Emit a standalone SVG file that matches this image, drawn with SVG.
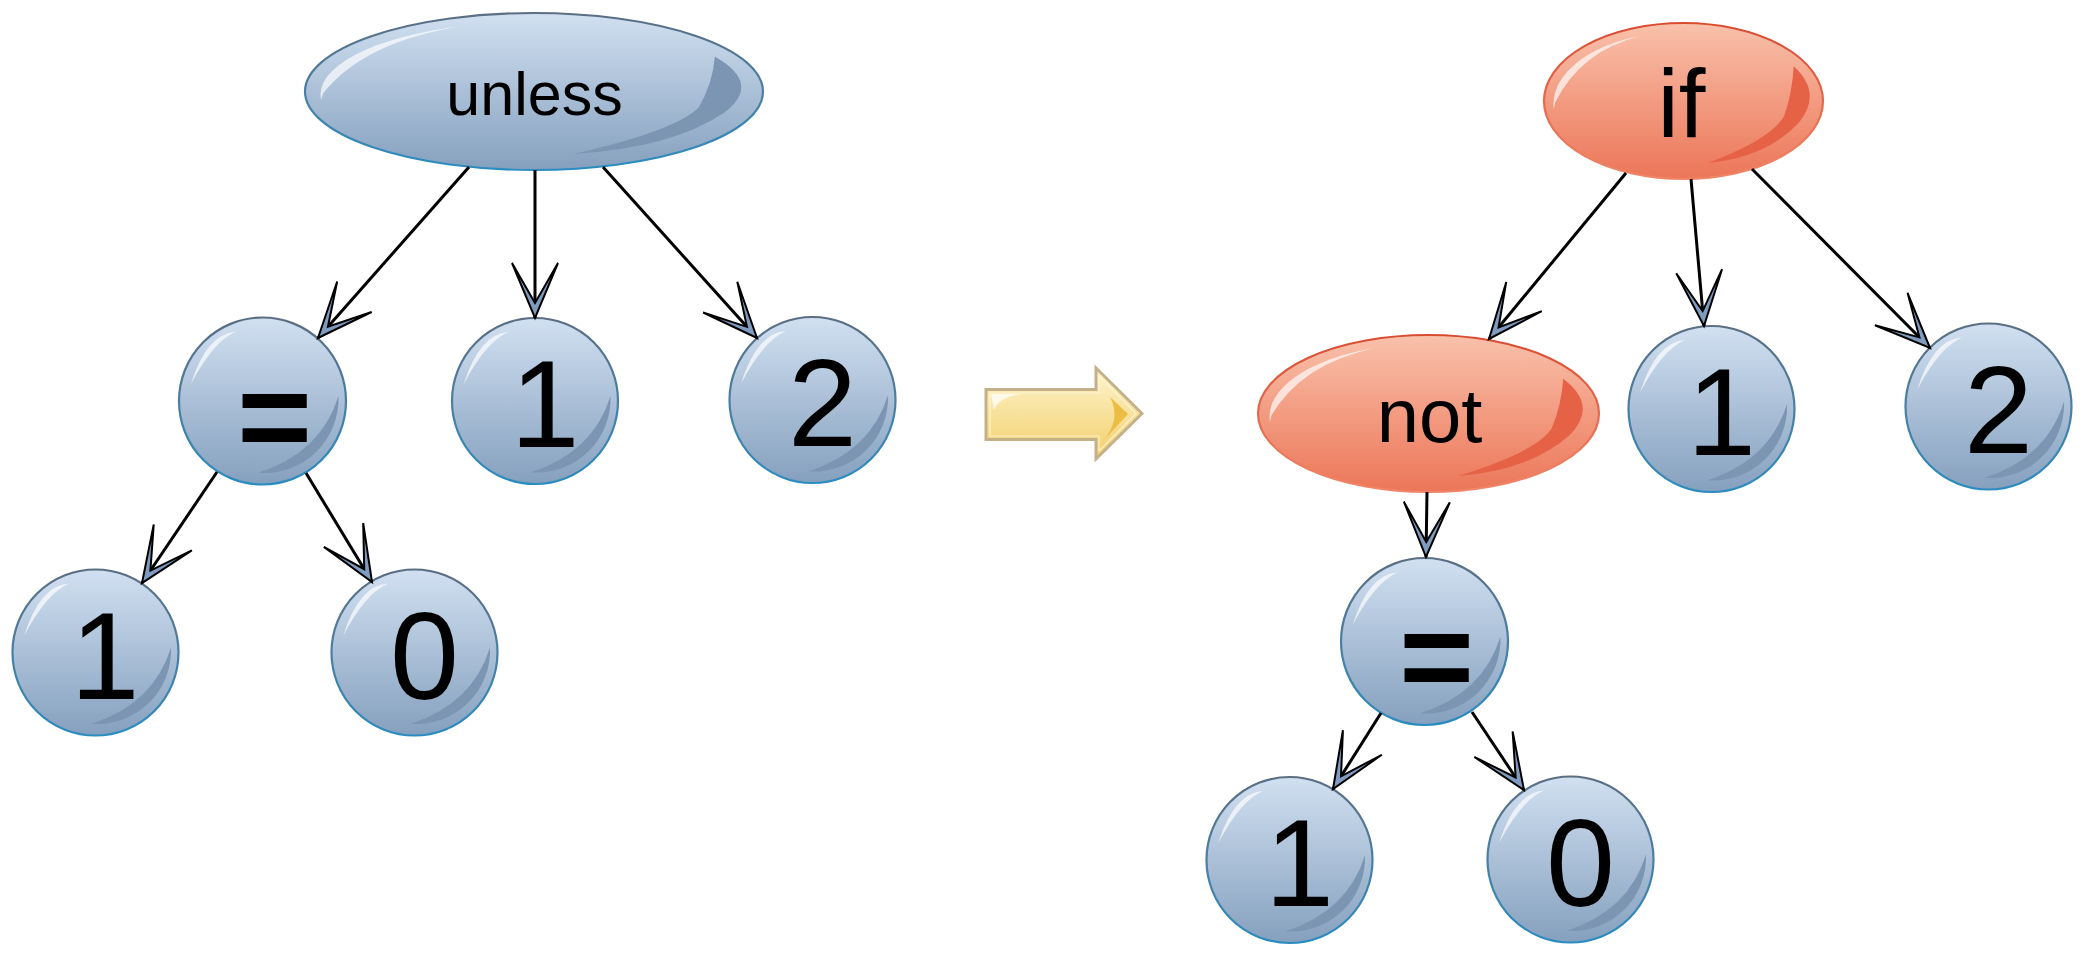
<svg xmlns="http://www.w3.org/2000/svg" xmlns:xlink="http://www.w3.org/1999/xlink" width="2084" height="956" viewBox="0 0 2084 956">
<defs>
<style>
.blue{fill:url(#gBlue);stroke:url(#gBlueS);stroke-width:2.2}
.red{fill:url(#gRed);stroke:url(#gRedS);stroke-width:2.2}
.hi{fill:#ffffff;fill-opacity:0.68}
.shB{fill:#7b95b3}
.shR{fill:#e66246}
.lbl{font-family:"Liberation Sans",Arial,Helvetica,sans-serif;text-anchor:middle;fill:#000}
.dig{font-size:124px}
.eq{font-size:128px;font-weight:bold}
.edge{fill:none;stroke:#000;stroke-width:3;marker-end:url(#arr)}
</style>
<linearGradient id="gBlue" x1="0" y1="0" x2="0" y2="1"><stop offset="0" stop-color="#d1e0f1"/><stop offset="1" stop-color="#85a0be"/></linearGradient>
<linearGradient id="gBlueS" x1="0" y1="0" x2="0" y2="1"><stop offset="0" stop-color="#5b6e82"/><stop offset="0.5" stop-color="#4a7ea3"/><stop offset="1" stop-color="#2a8cc0"/></linearGradient>
<linearGradient id="gRed" x1="0" y1="0" x2="0" y2="1"><stop offset="0" stop-color="#f9c1ab"/><stop offset="1" stop-color="#ec7658"/></linearGradient>
<linearGradient id="gRedS" x1="0" y1="0" x2="0" y2="1"><stop offset="0" stop-color="#d84c32"/><stop offset="1" stop-color="#f08668"/></linearGradient>
<linearGradient id="gYel" x1="0" y1="0" x2="0" y2="1"><stop offset="0" stop-color="#fdf4cc"/><stop offset="1" stop-color="#f2cf6c"/></linearGradient>
<path id="cHi" d="M-0.86,-0.2 Q-0.67,-0.805 -0.32,-0.83 Q-0.59,-0.715 -0.86,-0.2 Z"/>
<path id="cSh" d="M0.91,-0.06 A0.89 0.89 0 0 1 -0.05,0.86 Q0.70,0.62 0.91,-0.06 Z"/>
<path id="eHi" d="M-0.93,0.11 A0.93 0.93 0 0 1 -0.316,-0.834 Q-0.742,-0.633 -0.92,0.02 Z"/>
<path id="eSh" d="M0.79,-0.444 Q1.0,-0.1 0.827,0.278 Q0.6,0.72 0.172,0.796 Q0.62,0.5 0.72,0.2 Q0.78,-0.1 0.79,-0.444 Z"/>
<marker id="arr" markerUnits="userSpaceOnUse" orient="auto" refX="0" refY="0" markerWidth="80" markerHeight="60" viewBox="-60 -30 80 60" overflow="visible">
<path d="M-55,-23 L0,0 L-55,23 L-15,0 Z" fill="#7f9cc0" stroke="#000" stroke-width="2"/>
</marker>
</defs>

<g id="node-unless">
<ellipse class="blue" cx="534" cy="91.5" rx="229" ry="78.5"/>
<use href="#eHi" class="hi" transform="translate(534 91.5) scale(229 78.5)"/>
<use href="#eSh" class="shB" transform="translate(534 91.5) scale(229 78.5)"/>
<text class="lbl" x="534.5" y="115" font-size="61">unless</text>
</g>

<g id="node-eq-left">
<circle class="blue" cx="262.5" cy="401" r="83.5"/>
<use href="#cHi" class="hi" transform="translate(262.5 401) scale(83.5)"/>
<use href="#cSh" class="shB" transform="translate(262.5 401) scale(83.5)"/>
<text class="lbl eq" x="274.5" y="460">=</text>
</g>

<g id="node-one-left">
<circle class="blue" cx="535" cy="401" r="83"/>
<use href="#cHi" class="hi" transform="translate(535 401) scale(83)"/>
<use href="#cSh" class="shB" transform="translate(535 401) scale(83)"/>
<text class="lbl dig" x="545" y="447">1</text>
</g>

<g id="node-two-left">
<circle class="blue" cx="812.5" cy="400" r="83"/>
<use href="#cHi" class="hi" transform="translate(812.5 400) scale(83)"/>
<use href="#cSh" class="shB" transform="translate(812.5 400) scale(83)"/>
<text class="lbl dig" x="822.5" y="446">2</text>
</g>

<g id="node-one-left-bottom">
<circle class="blue" cx="95.5" cy="652.5" r="83"/>
<use href="#cHi" class="hi" transform="translate(95.5 652.5) scale(83)"/>
<use href="#cSh" class="shB" transform="translate(95.5 652.5) scale(83)"/>
<text class="lbl dig" x="105" y="699">1</text>
</g>

<g id="node-zero-left-bottom">
<circle class="blue" cx="414.5" cy="652.5" r="83"/>
<use href="#cHi" class="hi" transform="translate(414.5 652.5) scale(83)"/>
<use href="#cSh" class="shB" transform="translate(414.5 652.5) scale(83)"/>
<text class="lbl dig" x="424.5" y="699">0</text>
</g>

<g id="transform-arrow">
<polygon points="986,389.5 1096,389.5 1096,368 1142,413.5 1096,459 1096,439.5 986,439.5" fill="url(#gYel)" stroke="#c4b18a" stroke-width="3"/>
<polygon points="990,393 1099,393 1099,376 1136,413.5 1099,451 1099,436 990,436" fill="none" stroke="#fff7d9" stroke-width="1.2" stroke-opacity="0.8"/>
<path d="M1110,397 L1128,414 L1102,442 Q1122,420 1110,397 Z" fill="#ecbd44"/>
<path d="M991,394 L1022,394 Q999,397 994,410 Z" fill="#ffffff" fill-opacity="0.75"/>
</g>

<g id="node-if">
<ellipse class="red" cx="1683.5" cy="101" rx="139.5" ry="78"/>
<use href="#eHi" class="hi" transform="translate(1683.5 101) scale(139.5 78)"/>
<use href="#eSh" class="shR" transform="translate(1683.5 101) scale(139.5 78)"/>
<text class="lbl" x="1681.5" y="137" font-size="96">if</text>
</g>

<g id="node-not">
<ellipse class="red" cx="1428.5" cy="413.5" rx="170.5" ry="78.5"/>
<use href="#eHi" class="hi" transform="translate(1428.5 413.5) scale(170.5 78.5)"/>
<use href="#eSh" class="shR" transform="translate(1428.5 413.5) scale(170.5 78.5)"/>
<text class="lbl" x="1429.5" y="442" font-size="76">not</text>
</g>

<g id="node-one-right">
<circle class="blue" cx="1711.5" cy="409" r="83"/>
<use href="#cHi" class="hi" transform="translate(1711.5 409) scale(83)"/>
<use href="#cSh" class="shB" transform="translate(1711.5 409) scale(83)"/>
<text class="lbl dig" x="1721.5" y="455">1</text>
</g>

<g id="node-two-right">
<circle class="blue" cx="1988.5" cy="406.5" r="83"/>
<use href="#cHi" class="hi" transform="translate(1988.5 406.5) scale(83)"/>
<use href="#cSh" class="shB" transform="translate(1988.5 406.5) scale(83)"/>
<text class="lbl dig" x="1998.5" y="453">2</text>
</g>

<g id="node-eq-right">
<circle class="blue" cx="1424.5" cy="641.5" r="83.5"/>
<use href="#cHi" class="hi" transform="translate(1424.5 641.5) scale(83.5)"/>
<use href="#cSh" class="shB" transform="translate(1424.5 641.5) scale(83.5)"/>
<text class="lbl eq" x="1436.5" y="700">=</text>
</g>

<g id="node-one-right-bottom">
<circle class="blue" cx="1289.5" cy="860" r="83"/>
<use href="#cHi" class="hi" transform="translate(1289.5 860) scale(83)"/>
<use href="#cSh" class="shB" transform="translate(1289.5 860) scale(83)"/>
<text class="lbl dig" x="1299.5" y="906">1</text>
</g>

<g id="node-zero-right-bottom">
<circle class="blue" cx="1570.5" cy="859.5" r="83"/>
<use href="#cHi" class="hi" transform="translate(1570.5 859.5) scale(83)"/>
<use href="#cSh" class="shB" transform="translate(1570.5 859.5) scale(83)"/>
<text class="lbl dig" x="1580.5" y="906">0</text>
</g>

<g id="connectors">
<line class="edge" x1="469" y1="167" x2="318" y2="338"/>
<line class="edge" x1="535" y1="170" x2="535" y2="318"/>
<line class="edge" x1="603" y1="167" x2="757" y2="338"/>
<line class="edge" x1="217" y1="472" x2="142" y2="583"/>
<line class="edge" x1="306" y1="473" x2="372" y2="582"/>
<line class="edge" x1="1626" y1="173" x2="1489" y2="339"/>
<line class="edge" x1="1691" y1="179" x2="1704" y2="326"/>
<line class="edge" x1="1752" y1="169" x2="1930" y2="348"/>
<line class="edge" x1="1427" y1="492" x2="1426" y2="557"/>
<line class="edge" x1="1381" y1="713" x2="1333" y2="789"/>
<line class="edge" x1="1472" y1="712" x2="1524" y2="790"/>
</g>
</svg>
